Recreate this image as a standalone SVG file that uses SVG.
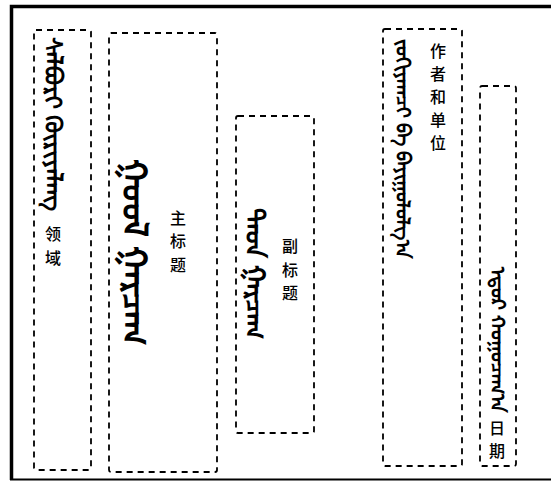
<svg xmlns="http://www.w3.org/2000/svg" width="551" height="482" viewBox="0 0 551 482">
<style>
.box{fill:none;stroke:#000;stroke-width:1.8;stroke-dasharray:6 5}
.zh{font-family:"Noto Sans CJK SC","Noto Sans CJK JP",sans-serif;font-size:16px;font-weight:500;fill:#000;text-anchor:middle}
.mn{font-family:"Noto Sans","DejaVu Sans",sans-serif;fill:#000;writing-mode:vertical-lr;font-weight:bold}
</style>
<rect width="551" height="482" fill="#fff"/>
<g id="frame">
<path d="M11.5 480 V6.5 H551" fill="none" stroke="#000" stroke-width="3.5"/>
<path d="M10 479.5 H551" fill="none" stroke="#000" stroke-width="2"/>
</g>
<g id="connectors"></g>
<g id="node-field">
<rect class="box" x="34" y="30" width="57" height="440" rx="2"/>
<text class="mn" x="54" y="37" font-size="23.5">ᠰᠠᠯᠪᠤᠷᠢ ᠬᠦᠷᠢᠶᠡᠯᠡᠩ</text>
<text class="zh"><tspan x="53" y="240">领</tspan><tspan x="53" y="264">域</tspan></text>
</g>
<g id="node-main-title">
<rect class="box" x="109" y="33" width="108" height="439" rx="2"/>
<text class="mn" x="136" y="159" font-size="34">ᠭᠣᠣᠯ ᠭᠠᠷᠴᠠᠭ</text>
<text class="zh"><tspan x="178" y="224">主</tspan><tspan x="178" y="247">标</tspan><tspan x="178" y="271">题</tspan></text>
</g>
<g id="node-subtitle">
<rect class="box" x="236" y="116" width="78" height="317" rx="2"/>
<text class="mn" x="256" y="208" font-size="26">ᠳᠡᠳ ᠭᠠᠷᠴᠠᠭ</text>
<text class="zh"><tspan x="290" y="252">副</tspan><tspan x="290" y="276">标</tspan><tspan x="290" y="299">题</tspan></text>
</g>
<g id="node-author">
<rect class="box" x="383" y="29" width="79" height="437" rx="2"/>
<text class="mn" x="403" y="39" font-size="19.5">ᠵᠣᠬᠢᠶᠠᠭᠴᠢ ᠪᠠ ᠪᠠᠶᠢᠭᠤᠯᠤᠯᠭ᠎ᠠ</text>
<text class="zh"><tspan x="438" y="57">作</tspan><tspan x="438" y="80">者</tspan><tspan x="438" y="103">和</tspan><tspan x="438" y="126">单</tspan><tspan x="438" y="149">位</tspan></text>
</g>
<g id="node-date">
<rect class="box" x="480" y="86" width="36" height="380" rx="2"/>
<text class="mn" x="498" y="267" font-size="19.5">ᠡᠳᠦᠷ ᠬᠤᠭᠤᠴᠠᠭ᠎ᠠ</text>
<text class="zh"><tspan x="497" y="434">日</tspan><tspan x="497" y="457">期</tspan></text>
</g>
</svg>
